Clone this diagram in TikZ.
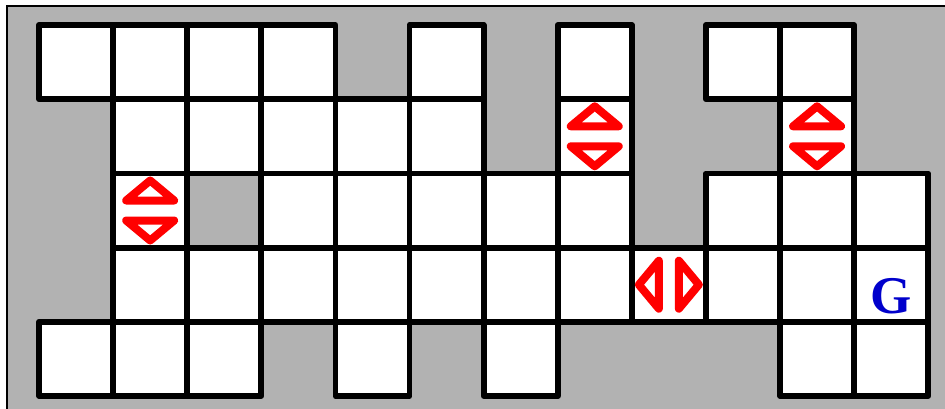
\documentclass[tikz,border=0pt]{standalone}
\usepackage{fontspec}
\setmainfont{Liberation Serif}
\definecolor{bg}{RGB}{178,178,178}
\definecolor{gblue}{RGB}{0,0,204}
\tikzset{
  cell/.style={fill=white,draw=black,line width=5.8pt,line join=round},
  tri/.style={draw=red,line width=8pt,line join=round,line cap=round},
  updown/.pic={
    \draw[tri] (-24,-10) -- (24,-10) -- (0,-30) -- cycle;
    \draw[tri] (-24,10) -- (24,10) -- (0,30) -- cycle;
  },
  leftright/.pic={
    \draw[tri] (-10,-24) -- (-10,24) -- (-30,0) -- cycle;
    \draw[tri] (10,-24) -- (10,24) -- (30,0) -- cycle;
  }
}
\begin{document}
\begin{tikzpicture}[x=1pt,y=-1pt]
\useasboundingbox (0,0) rectangle (945,409);
\fill[white] (0,0) rectangle (945,409);
\draw[fill=bg,line width=1.3pt] (7,6) rectangle (955,420);
\foreach \c/\r in {0/0,1/0,2/0,3/0,5/0,7/0,9/0,10/0,
                   1/1,2/1,3/1,4/1,5/1,7/1,10/1,
                   1/2,3/2,4/2,5/2,6/2,7/2,9/2,10/2,11/2,
                   1/3,2/3,3/3,4/3,5/3,6/3,7/3,8/3,9/3,10/3,11/3,
                   0/4,1/4,2/4,4/4,6/4,10/4,11/4}
  \draw[cell] ({39+74.1*\c},{25+74.2*\r}) rectangle +(74.1,74.2);
\pic at ({39+74.1*7.5},{25+74.2*1.5}) {updown};
\pic at ({39+74.1*10.5},{25+74.2*1.5}) {updown};
\pic at ({39+74.1*1.5},{25+74.2*2.5}) {updown};
\pic at ({39+74.1*8.5},{25+74.2*3.5}) {leftright};
\node[anchor=base,text=gblue,font=\fontsize{53}{53}\selectfont\bfseries,inner sep=0pt] (goal) at ({39+74.1*11.5},313) {G};
\end{tikzpicture}
\end{document}
